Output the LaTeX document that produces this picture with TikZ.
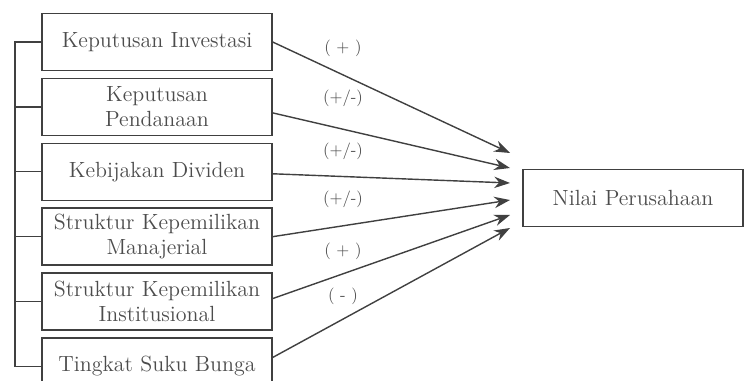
\documentclass[tikz,border=0pt]{standalone}
\usepackage{tikz}
\usetikzlibrary{arrows.meta}
\usetikzlibrary{positioning}

\begin{document}
\begin{tikzpicture}[x=0.02cm,y=-0.02cm,line width=0.8pt,
  var/.style={draw=black!75,text=black!70,minimum width=4.6cm,minimum height=1.14cm,
    text width=4.5cm,align=center,inner sep=0pt,font=\fontsize{12.5}{14}\selectfont},
  sign/.style={text=black!70,font=\fontsize{9.5}{11}\selectfont},
  arr/.style={draw=black!75,-{Stealth[length=9pt,width=6.5pt]}},
  bar/.style={draw=black!75}]
  \useasboundingbox (0,0) rectangle (746,381);

  \node[var]            			(k1) at (157,42)		{Keputusan Investasi};
  \node[var]            			(k2) [below=0.13cm of k1]	{Keputusan\\Pendanaan};
  \node[var]            			(k3) [below=0.13cm of k2]	{Kebijakan Dividen};
  \node[var]            			(k4) [below=0.13cm of k3]	{Struktur Kepemilikan\\Manajerial};
  \node[var]            			(k5) [below=0.13cm of k4]	{Struktur Kepemilikan\\Institusional};
  \node[var]            			(k6) [below=0.13cm of k5]	{Tingkat Suku Bunga};
  \node[var,minimum width=4.4cm,text width=4.3cm]	(nilai) at (633,198)	{Nilai Perusahaan};

  \coordinate (left) at (15,0);
  \draw[bar] (k1.west) -- (k1.west -| left) -- (k6.west -| left) -- (k6.west);
  \foreach \i in {2,...,5}
    \draw[bar] (k\i.west) -- (k\i.west -| left);

  \foreach \i/\dy/\y in {1/0/153, 2/6/168, 3/2/183, 4/0/200, 5/-3/215, 6/-9/228}{
    \coordinate (e\i) at (510,\y);
    \draw[arr] ([shift={(0,\dy)}]k\i.east) -- (e\i);
  }

  \node[sign] (s1) at (343,48)  {( + )};
  \node[sign] (s2) at (343,98)  {(+/-)};
  \node[sign] (s3) at (343,151) {(+/-)};
  \node[sign] (s4) at (343,199) {(+/-)};
  \node[sign] (s5) at (343,251) {( + )};
  \node[sign] (s6) at (343,296) {( - )};
\end{tikzpicture}
\end{document}
